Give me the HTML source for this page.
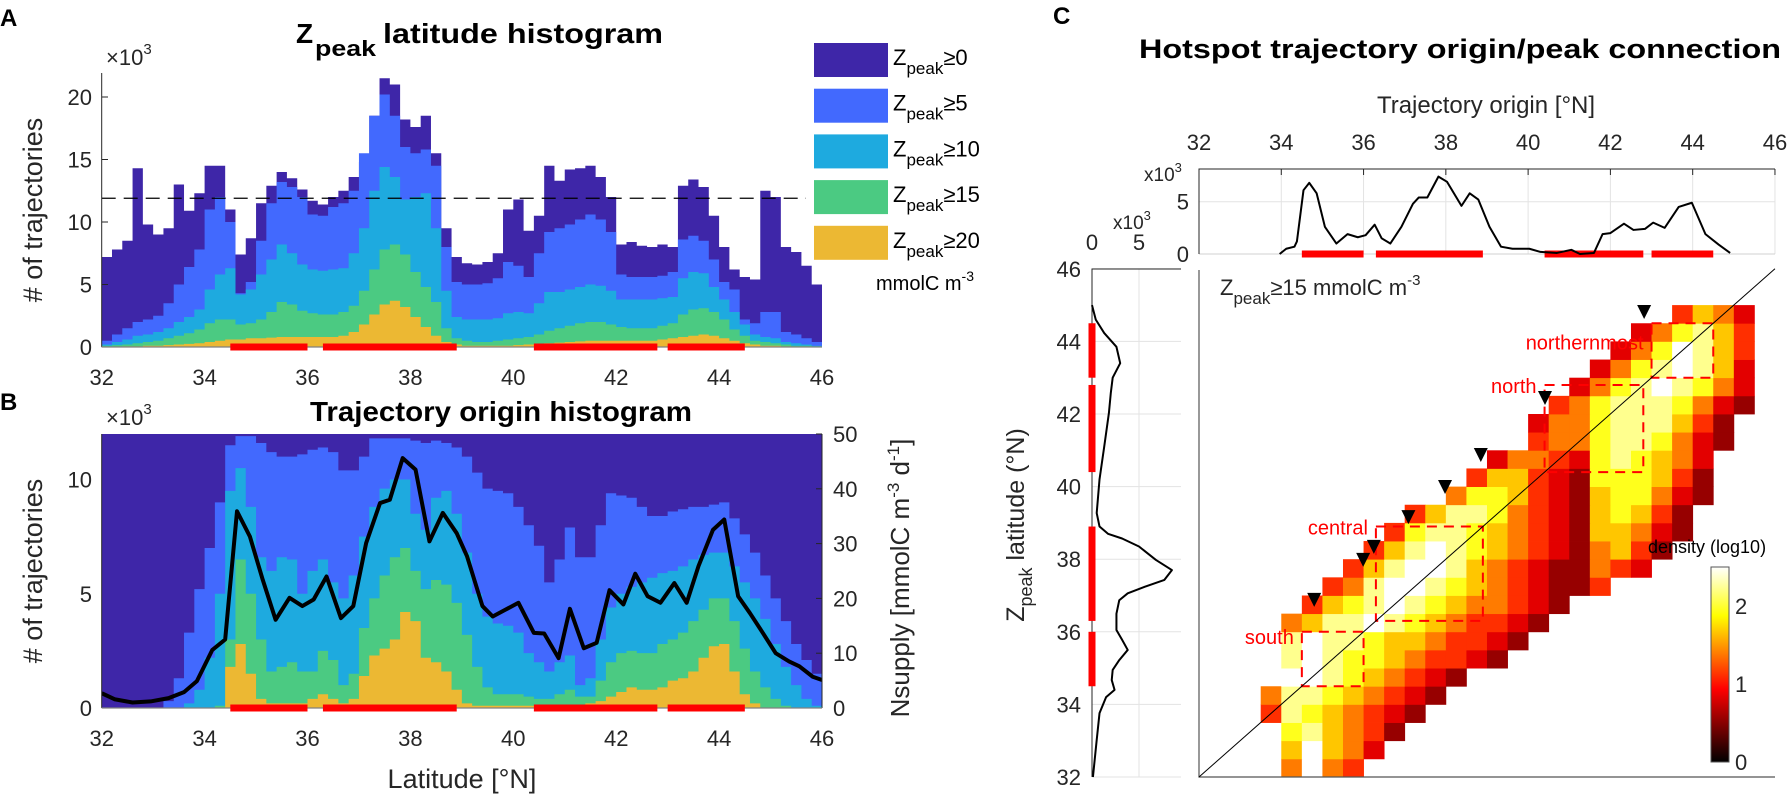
<!DOCTYPE html>
<html><head><meta charset="utf-8"><title>Hotspot trajectory figure</title>
<style>
html,body{margin:0;padding:0;background:#fff;}
svg{display:block;font-family:"Liberation Sans",Arial,sans-serif;}
.tk{font-size:22px;fill:#262626;}
.bt{font-weight:bold;fill:#000;}
</style></head>
<body>
<svg id="fig" width="1791" height="795" viewBox="0 0 1791 795" xmlns="http://www.w3.org/2000/svg">
<defs>
<clipPath id="clipB"><rect x="101.7" y="434" width="720.3" height="274"/></clipPath>
<linearGradient id="hotGrad" x1="0" y1="1" x2="0" y2="0">
<stop offset="0" stop-color="#000"/><stop offset="0.375" stop-color="#f00"/><stop offset="0.75" stop-color="#ff0"/><stop offset="1" stop-color="#fff"/>
</linearGradient>
</defs>
<g id="panelA"></g>
<g id="panelB"></g>
<g id="panelC"></g>

<text x="0" y="26" class="bt" font-size="24">A</text>
<text x="0" y="410" class="bt" font-size="24">B</text>
<text x="1053" y="24" class="bt" font-size="24">C</text>

<text class="bt"><tspan x="296" y="43" font-size="28">Z</tspan><tspan x="315" y="56" font-size="22" textLength="61" lengthAdjust="spacingAndGlyphs">peak</tspan><tspan x="383" y="43" font-size="28" textLength="280" lengthAdjust="spacingAndGlyphs">latitude histogram</tspan></text>
<text x="310" y="421" class="bt" font-size="28" textLength="382" lengthAdjust="spacingAndGlyphs">Trajectory origin histogram</text>
<text x="1139" y="58" class="bt" font-size="27" textLength="642" lengthAdjust="spacingAndGlyphs">Hotspot trajectory origin/peak connection</text>

<text class="tk"><tspan x="106" y="65">×10</tspan><tspan font-size="15" dy="-11">3</tspan></text>
<text class="tk"><tspan x="106" y="425">×10</tspan><tspan font-size="15" dy="-11">3</tspan></text>

<text transform="translate(42,210) rotate(-90)" text-anchor="middle" font-size="27" fill="#262626"># of trajectories</text>
<text transform="translate(42,571) rotate(-90)" text-anchor="middle" font-size="27" fill="#262626"># of trajectories</text>
<text x="462" y="788" text-anchor="middle" font-size="27" fill="#262626">Latitude [°N]</text>
<text transform="translate(909,578) rotate(-90)" text-anchor="middle" font-size="26" fill="#262626">Nsupply [mmolC m<tspan font-size="17" dy="-10">-3</tspan><tspan dy="10"> d</tspan><tspan font-size="17" dy="-10">-1</tspan><tspan dy="10">]</tspan></text>

<text x="1486" y="113" text-anchor="middle" font-size="24" fill="#262626">Trajectory origin [°N]</text>
<text transform="translate(1024,525) rotate(-90)" text-anchor="middle" font-size="25" fill="#262626"><tspan>Z</tspan><tspan font-size="18" dy="8">peak</tspan><tspan dy="-8"> latitude (°N)</tspan></text>
<text font-size="22" fill="#262626"><tspan x="1220" y="295">Z</tspan><tspan font-size="17" dy="9">peak</tspan><tspan dy="-9">≥15 mmolC m</tspan><tspan font-size="15" dy="-10">-3</tspan></text>
<text x="1648" y="553" font-size="18" fill="#000">density (log10)</text>

<text x="1144" y="181" font-size="19" fill="#262626">x10<tspan font-size="13" dy="-9">3</tspan></text>
<text x="1113" y="229" font-size="19" fill="#262626">x10<tspan font-size="13" dy="-9">3</tspan></text>
</svg>

<script>
// ---------------- DATA ----------------
const binStart = 32, binWidth = 0.2;
const aZ0 = [7.2,7.8,8.5,14.3,9.8,9.0,9.5,13.0,10.9,12.3,14.5,14.5,11.0,7.4,8.7,11.5,12.9,14.0,13.5,12.6,11.7,11.4,12.0,12.5,13.6,14.8,18.5,21.5,21.0,18.2,17.6,18.5,15.5,9.5,7.2,6.7,6.6,6.8,7.5,11.0,11.8,9.3,10.5,14.5,13.3,14.2,14.3,14.5,13.6,12.0,8.2,8.4,8.1,8.0,8.2,8.0,12.9,13.4,12.8,10.5,8.0,6.2,5.6,5.4,12.5,12.0,8.0,7.6,6.5,5.0];
const aZ5 = [0.5,1.0,1.5,2.0,2.2,2.5,3.5,5.0,6.4,7.8,11.0,12.0,10.0,4.3,5.2,8.5,11.5,13.2,12.8,12.0,10.6,10.5,11.2,11.5,12.5,15.5,18.5,20.2,18.5,16.0,15.5,15.8,14.5,8.0,5.2,5.0,5.0,5.1,5.5,6.8,6.5,5.6,7.5,9.2,9.5,9.8,10.2,10.6,10.2,9.2,5.8,5.6,5.6,5.6,5.7,6.0,8.6,8.9,8.5,7.0,5.2,4.6,2.2,1.9,2.8,2.8,1.2,1.0,0.7,0.4];
const aZ10 = [0.2,0.4,0.6,0.9,1.0,1.2,1.5,2.0,2.4,3.0,4.6,5.8,6.3,4.2,4.6,5.8,7.0,8.2,7.5,6.6,6.2,6.1,6.2,6.3,7.5,9.5,12.5,14.4,13.6,11.8,12.0,12.3,9.5,4.5,2.4,2.2,2.2,2.2,2.3,2.7,2.8,2.7,3.5,4.4,4.4,4.6,4.8,5.0,4.9,4.5,3.8,3.8,3.8,3.8,3.9,4.0,5.5,6.0,5.9,4.8,3.8,2.8,1.8,1.0,0.8,0.7,0.4,0.3,0.2,0.1];
const aZ15 = [0.1,0.15,0.2,0.3,0.4,0.5,0.7,0.9,1.1,1.4,1.9,2.2,2.2,1.8,1.9,2.2,2.8,3.6,3.4,2.9,2.7,2.6,2.6,2.8,3.3,4.5,6.2,7.8,8.2,7.4,6.0,4.8,3.6,1.5,0.7,0.5,0.4,0.4,0.5,0.6,0.7,0.8,1.0,1.3,1.5,1.7,1.9,2.0,2.0,1.8,1.6,1.5,1.5,1.5,1.7,1.9,2.6,3.0,3.1,2.8,2.2,1.4,0.9,0.5,0.4,0.3,0.2,0.1,0.1,0.05];
const aZ20 = [0,0,0.05,0.05,0.1,0.1,0.15,0.2,0.25,0.3,0.4,0.5,0.6,0.6,0.7,0.7,0.75,0.8,0.8,0.8,0.8,0.8,0.8,0.9,1.2,1.8,2.6,3.4,3.7,3.2,2.4,1.6,0.9,0.4,0.2,0.1,0.1,0.1,0.1,0.1,0.15,0.2,0.25,0.3,0.35,0.4,0.45,0.5,0.5,0.5,0.5,0.5,0.5,0.5,0.6,0.7,0.8,0.9,1.0,0.9,0.7,0.5,0.3,0.2,0.1,0.1,0.05,0,0,0];
const aThreshold = 11.9;
const aTicksY = [0,5,10,15,20];
const latTicks = [32,34,36,38,40,42,44,46];
const regionLo = [34.5,36.3,40.4,43.0];
const regionHi = [36.0,38.9,42.8,44.5];
const regionNames = ["south","central","north","northernmost"];

const bZ0 = [13,13,13,13,13,13,13,13,13,13,13,13,13,13,13,13,13,13,13,13,13,13,13,13,13,13,13,13,13,13,13,13,13,13,13,13,13,13,13,13,13,13,13,13,13,13,13,13,13,13,13,13,13,13,13,13,13,13,13,13,13,13,13,13,13,13,13,13,13,13];
const bZ5 = [0,0,0,0,0,0,0.3,1.3,3.3,5.2,7.0,9.0,11.5,11.9,11.9,11.6,11.2,11.0,11.0,11.1,11.3,11.4,11.2,10.4,10.4,11.0,11.8,11.8,11.8,11.8,11.7,11.6,11.7,11.6,11.4,11.0,10.3,9.6,9.5,9.4,8.8,8.0,7.1,5.5,6.5,7.9,6.6,6.6,8.0,9.4,9.3,9.2,8.8,8.4,8.4,8.6,8.7,8.8,8.8,8.9,9.0,8.3,7.6,6.8,5.8,4.8,3.8,2.8,2.1,1.5];
const bZ10 = [0,0,0,0,0,0,0,0,0.2,0.8,2.2,5.0,9.5,10.5,8.8,6.6,6.0,6.6,6.5,5.0,6.0,6.5,5.5,4.8,5.8,7.5,8.8,9.6,10.0,10.0,8.5,7.8,9.2,9.5,8.5,6.8,5.0,4.0,3.7,3.6,3.3,2.4,2.0,1.6,2.0,2.3,1.0,1.3,3.0,4.4,5.0,5.3,5.5,5.7,5.9,6.0,6.2,6.5,6.7,6.8,6.8,6.2,5.5,4.8,3.9,2.8,1.8,1.0,0.4,0.1];
const bZ15 = [0,0,0,0,0,0,0,0,0,0,0,0.1,3.0,6.5,5.0,3.0,1.6,1.8,2.0,1.6,1.6,2.5,2.1,1.0,1.5,3.5,4.8,5.8,6.6,7.0,6.0,5.2,5.6,5.4,4.6,3.2,1.8,0.9,0.6,0.6,0.6,0.5,0.4,0.4,0.6,0.8,0.5,0.5,1.2,2.0,2.4,2.5,2.4,2.4,2.8,3.0,3.3,3.8,4.3,4.8,4.8,3.8,2.6,1.6,0.9,0.4,0.1,0,0,0];
const bZ20 = [0,0,0,0,0,0,0,0,0,0,0,0,1.8,2.8,1.5,0.4,0.2,0.2,0.2,0.2,0.4,0.6,0.4,0.2,0.4,1.4,2.3,2.6,3.0,4.2,3.8,2.2,2.0,1.6,0.8,0.2,0.1,0.1,0.1,0.1,0.1,0.1,0.1,0.1,0.1,0.1,0.1,0.2,0.3,0.5,0.7,0.9,0.8,0.8,0.9,1.2,1.3,1.6,2.2,2.7,2.8,1.6,0.6,0.2,0,0,0,0,0,0];
const bTicksY = [0,5,10];
const nTicks = [0,10,20,30,40,50];
const nLat = [32.0,32.25,32.6,32.95,33.3,33.6,33.85,34.15,34.4,34.63,34.88,35.13,35.38,35.65,35.9,36.12,36.37,36.65,36.89,37.14,37.41,37.6,37.85,38.1,38.37,38.63,38.9,39.1,39.4,39.6,39.84,40.1,40.4,40.6,40.88,41.1,41.37,41.62,41.87,42.14,42.37,42.61,42.86,43.13,43.37,43.6,43.88,44.1,44.37,44.6,44.85,45.1,45.36,45.56,45.82,46.0];
const nVal = [2.7,1.6,1.0,1.2,1.8,2.9,4.9,10.6,12.5,35.9,31.3,23.4,16.1,20.1,18.6,19.8,24.0,16.4,18.6,30.1,37.4,38.0,45.6,43.5,30.4,35.6,31.9,27.7,18.6,16.7,17.9,19.2,13.7,13.6,9.1,18.1,10.9,11.9,21.5,18.9,24.5,20.4,19.2,22.8,19.2,25.9,32.5,34.4,20.4,17.3,13.7,10.0,8.5,7.6,5.7,5.1];

const topLat = [33.96,34.12,34.32,34.38,34.54,34.68,34.86,35.06,35.34,35.61,35.86,36.05,36.27,36.44,36.65,36.92,37.2,37.34,37.55,37.82,38.03,38.38,38.58,38.79,39.06,39.34,39.62,40.03,40.3,40.7,41.05,41.26,41.6,41.81,42.0,42.33,42.56,42.84,43.04,43.32,43.66,43.98,44.31,44.63,44.91];
const topVal = [0,0.5,0.7,1.2,6.1,6.8,5.8,2.6,1.0,1.9,1.6,1.8,2.8,1.5,1.0,2.6,4.8,5.4,5.4,7.4,6.9,4.6,5.8,5.2,2.6,0.7,0.5,0.5,0.2,0.1,0.4,0,0.1,1.9,2.0,2.9,2.3,2.4,3.0,2.5,4.5,4.9,1.9,0.9,0.1];
const leftLat = [45.0,44.6,44.23,43.85,43.4,43.0,42.58,42.03,41.1,40.2,39.27,38.9,38.7,38.57,38.35,37.98,37.7,37.43,37.24,37.06,36.87,36.5,36.05,35.78,35.5,35.22,34.95,34.67,34.4,34.2,33.76,33.02,32.0];
const leftVal = [0,0.4,1.3,2.6,3.0,2.2,2.0,1.8,1.3,0.8,0.5,0.8,1.7,3.2,5.0,6.8,8.5,7.7,5.6,3.8,2.9,2.6,2.6,3.2,3.8,2.9,2.2,2.1,2.4,1.5,0.8,0.5,0.1];
const miniTicks = [0,5];
const hmRows = [
"....5954....................",
"....69653...................",
"....786542..................",
"...48765432.................",
"...588765432................",
"....998765432...............",
"....89877654432.............",
"....898876654432............",
"....5688987654432...........",
".....4678987655432..........",
"......45899876543224........",
".......468998654322543......",
"........468987654325642.....",
".........478876543266532....",
"..........46887543267642....",
"............5776432677532...",
".............466432777642...",
"..............35543787653...",
"................4557887532..",
"................3557888642..",
".................4578887532.",
"..................357898753.",
"...................35789863.",
"....................3579864.",
".....................357864.",
".......................4653.",
"............................",
"............................"];
const hmMax = 2.5;
const cbTicks = [0,1,2];
const markOrigin = [42.82,40.41,38.85,37.98,37.09,36.25,35.99,34.8];
const markPeak = [44.81,42.44,40.87,39.99,39.16,38.34,37.98,36.88];
const legendLabels = ["0","5","10","15","20"];

// ---------------- HELPERS ----------------
const NS = "http://www.w3.org/2000/svg";
function mk(tag, attrs, parent){ const e=document.createElementNS(NS,tag); for(const k in attrs) e.setAttribute(k,attrs[k]); parent.appendChild(e); return e; }
const colors = ["#3e26a8","#4269fe","#1eaadf","#4bca82","#ecb833"];
const axisCol = "#262626";

const xA = lat => 101.7 + (lat-32)*51.45;
const yA = v => 347 - v*12.5;
const yB = v => 708 - v*22.85;
const yN = v => 708 - v*274/50;
const xC = lat => 1199 + (lat-32)*41.14;
const yC = lat => 777 - (lat-32)*36.3;
const yTop = v => 254 - v*10.46;
const xLeft = v => 1092 + v*9.4;

function stepPath(vals, yf){
  let d = "M"+xA(binStart)+","+yf(0);
  vals.forEach((v,i)=>{ const lo=binStart+i*binWidth, hi=lo+binWidth; d+=" L"+xA(lo).toFixed(2)+","+yf(v).toFixed(2)+" L"+xA(hi).toFixed(2)+","+yf(v).toFixed(2); });
  d += " L"+xA(binStart+vals.length*binWidth)+","+yf(0)+" Z";
  return d;
}

// ---------------- PANEL A ----------------
const gA = document.getElementById("panelA");
[aZ0,aZ5,aZ10,aZ15,aZ20].forEach((s,k)=>{
  const p = mk("path",{d:stepPath(s,yA),fill:colors[k]},gA);
  
  
});
const dl = mk("line",{x1:101.7,x2:806,y1:yA(aThreshold),y2:yA(aThreshold),stroke:"#000","stroke-width":1.3,"stroke-dasharray":"14 8"},gA);


function latAxis(g, y0, prefix){
  const ax = mk("line",{x1:101.7,x2:822,y1:y0,y2:y0,stroke:"#808080","stroke-width":1.2},g);
  
  
  regionLo.forEach((lo,i)=>{
    const r = mk("rect",{x:xA(lo),y:y0-3.5,width:xA(regionHi[i])-xA(lo),height:7,fill:"#ff0000"},g);
    
    
  });
  latTicks.forEach(t=>{
    const tx = mk("text",{x:xA(t),y:y0+38,"text-anchor":"middle",class:"tk"},g);
    tx.textContent = t;
    
    
  });
}
const ayAx = mk("line",{x1:101.7,x2:101.7,y1:73,y2:347,stroke:axisCol,"stroke-width":1},gA);


aTicksY.forEach(t=>{
  const tl = mk("line",{x1:101.7,x2:108,y1:yA(t),y2:yA(t),stroke:axisCol},gA);
  
  
  const tx = mk("text",{x:92,y:yA(t)+8,"text-anchor":"end",class:"tk"},gA);
  tx.textContent = t;
  
  
});
latAxis(gA,347,'panel-a');
const lg = mk("g",{},gA);


legendLabels.forEach((lab,k)=>{
  const y0 = 43 + k*45.7;
  const r = mk("rect",{x:814,y:y0,width:74,height:34,fill:colors[k]},lg);
  
  
  const t = mk("text",{x:893,y:y0+22,"font-size":22,fill:"#000"},lg);
  
  
  const s1 = mk("tspan",{},t); s1.textContent = "Z";
  const s2 = mk("tspan",{"font-size":17,dy:9},t); s2.textContent = "peak";
  const s3 = mk("tspan",{dy:-9},t); s3.textContent = "≥"+lab;
});
const lu = mk("text",{x:876,y:290,"font-size":20,fill:"#000"},lg);


const lu1 = mk("tspan",{},lu); lu1.textContent = "mmolC m";
const lu2 = mk("tspan",{"font-size":14,dy:-9},lu); lu2.textContent = "-3";

// ---------------- PANEL B ----------------
const gB = document.getElementById("panelB");
const gBc = mk("g",{"clip-path":"url(#clipB)"},gB);


[bZ0,bZ5,bZ10,bZ15,bZ20].forEach((s,k)=>{
  const p = mk("path",{d:stepPath(s,yB),fill:colors[k]},gBc);
  
  
});
let nd = "";
nLat.forEach((la,i)=>{ nd += (i?" L":"M")+xA(la).toFixed(2)+","+yN(nVal[i]).toFixed(2); });
const nl = mk("path",{d:nd,fill:"none",stroke:"#000","stroke-width":4,"stroke-linejoin":"round"},gBc);


const byAx = mk("line",{x1:101.7,x2:101.7,y1:434,y2:708,stroke:axisCol},gB);


bTicksY.forEach(t=>{
  const tx = mk("text",{x:92,y:yB(t)+8,"text-anchor":"end",class:"tk"},gB);
  tx.textContent = t;
  
  
});
const brAx = mk("line",{x1:822,x2:822,y1:434,y2:708,stroke:axisCol},gB);


nTicks.forEach(t=>{
  const tl = mk("line",{x1:816,x2:822,y1:yN(t),y2:yN(t),stroke:axisCol},gB);
  
  
  const tx = mk("text",{x:833,y:yN(t)+8,class:"tk"},gB);
  tx.textContent = t;
  
  
});
latAxis(gB,708,'panel-b');

// ---------------- PANEL C ----------------
const gC = document.getElementById("panelC");
const gT = mk("g",{},gC);


latTicks.forEach(t=>{
  const gl = mk("line",{x1:xC(t),x2:xC(t),y1:169,y2:254,stroke:"#e3e3e3"},gT);
  
  
  const tx = mk("text",{x:xC(t),y:150,"text-anchor":"middle",class:"tk"},gT);
  tx.textContent = t;
  
  
});
miniTicks.forEach(t=>{
  const gl = mk("line",{x1:1199,x2:1775,y1:yTop(t),y2:yTop(t),stroke:t?"#e3e3e3":"#d0d0d0"},gT);
  
  
  const tx = mk("text",{x:1189,y:yTop(t)+8,"text-anchor":"end",class:"tk"},gT);
  tx.textContent = t;
  
  
});
const tBox = mk("path",{d:"M1199,254 L1199,169 L1775,169",fill:"none",stroke:axisCol},gT);


latTicks.forEach(t=>{
  const tm = mk("line",{x1:xC(t),x2:xC(t),y1:169,y2:175,stroke:axisCol},gT);
  
  
});
regionLo.forEach((lo,i)=>{
  const r = mk("rect",{x:xC(lo),y:250.5,width:xC(regionHi[i])-xC(lo),height:7,fill:"#ff0000"},gT);
  
  
});
let td = "";
topLat.forEach((la,i)=>{ td += (i?" L":"M")+xC(la).toFixed(2)+","+yTop(topVal[i]).toFixed(2); });
const tl = mk("path",{d:td,fill:"none",stroke:"#000","stroke-width":2,"stroke-linejoin":"round"},gT);



const gL = mk("g",{},gC);


latTicks.forEach(t=>{
  const gl = mk("line",{x1:1092,x2:1181,y1:yC(t),y2:yC(t),stroke:"#e3e3e3"},gL);
  
  
  const tx = mk("text",{x:1081,y:yC(t)+8,"text-anchor":"end",class:"tk"},gL);
  tx.textContent = t;
  
  
});
miniTicks.forEach(t=>{
  const gl = mk("line",{x1:xLeft(t),x2:xLeft(t),y1:269,y2:777,stroke:"#e3e3e3"},gL);
  
  
  const tx = mk("text",{x:xLeft(t),y:250,"text-anchor":"middle",class:"tk"},gL);
  tx.textContent = t;
  
  
});
const lBox = mk("path",{d:"M1181,269 L1092,269 L1092,777",fill:"none",stroke:axisCol},gL);


regionLo.forEach((lo,i)=>{
  const r = mk("rect",{x:1088.5,y:yC(regionHi[i]),width:7,height:yC(lo)-yC(regionHi[i]),fill:"#ff0000"},gL);
  
  
});
let ld = "";
leftLat.forEach((la,i)=>{ ld += (i?" L":"M")+xLeft(leftVal[i]).toFixed(2)+","+yC(la).toFixed(2); });
const ll = mk("path",{d:ld,fill:"none",stroke:"#000","stroke-width":2,"stroke-linejoin":"round"},gL);



function hot(t){ t=Math.max(0,Math.min(1,t));
  const r=Math.min(1,t/0.375), g=Math.max(0,Math.min(1,(t-0.375)/0.375)), b=Math.max(0,Math.min(1,(t-0.75)/0.25));
  return "rgb("+Math.round(r*255)+","+Math.round(g*255)+","+Math.round(b*255)+")"; }
const gH = mk("g",{},gC);


const cell = 0.5;
hmRows.forEach((row,ri)=>{
  for(let ci=0; ci<row.length; ci++){
    const ch=row[ci]; if(ch===".") continue;
    const lvl=+ch, val=lvl/9*hmMax;
    const x0=xC(32+ci*cell), x1=xC(32+(ci+1)*cell), y1=yC(32+ri*cell), y0=yC(32+(ri+1)*cell);
    const c = mk("rect",{x:x0.toFixed(2),y:y0.toFixed(2),width:(x1-x0+0.4).toFixed(2),height:(y1-y0+0.4).toFixed(2),fill:hot(val/hmMax)},gH);
    
    
  }
});
regionLo.forEach((lo,i)=>{
  const hi = regionHi[i];
  const r = mk("rect",{x:xC(lo),y:yC(hi),width:xC(hi)-xC(lo),height:yC(lo)-yC(hi),fill:"none",stroke:"#ff0000","stroke-width":2,"stroke-dasharray":"10 7"},gC);
  
  
  const t = mk("text",{x:xC(lo)-8,y:yC(hi)+(i===0?12:i===3?26:8),"text-anchor":"end","font-size":20,fill:"#ff0000"},gC);
  t.textContent = regionNames[i];
  
  
});
const mAx = mk("path",{d:"M1199,270 L1199,777 L1775,777",fill:"none",stroke:"#555","stroke-width":1.2},gC);


const diag = mk("line",{x1:xC(32),y1:yC(32),x2:xC(46),y2:yC(46),stroke:"#000","stroke-width":1},gC);


markOrigin.forEach((o,i)=>{
  const cx=xC(o), cy=yC(markPeak[i]);
  const m = mk("path",{d:"M"+(cx-7)+","+(cy-7)+" L"+(cx+7)+","+(cy-7)+" L"+cx+","+(cy+7)+" Z",fill:"#000"},gC);
  
  
});
const cbTop=567, cbBot=762;
const cbR = mk("rect",{x:1711,y:cbTop,width:18,height:cbBot-cbTop,fill:"url(#hotGrad)",stroke:"#555"},gC);


cbTicks.forEach(t=>{
  const y = cbBot - t/hmMax*(cbBot-cbTop);
  const tx = mk("text",{x:1735,y:y+8,class:"tk"},gC);
  tx.textContent = t;
  
  
});
</script>
</body></html>
